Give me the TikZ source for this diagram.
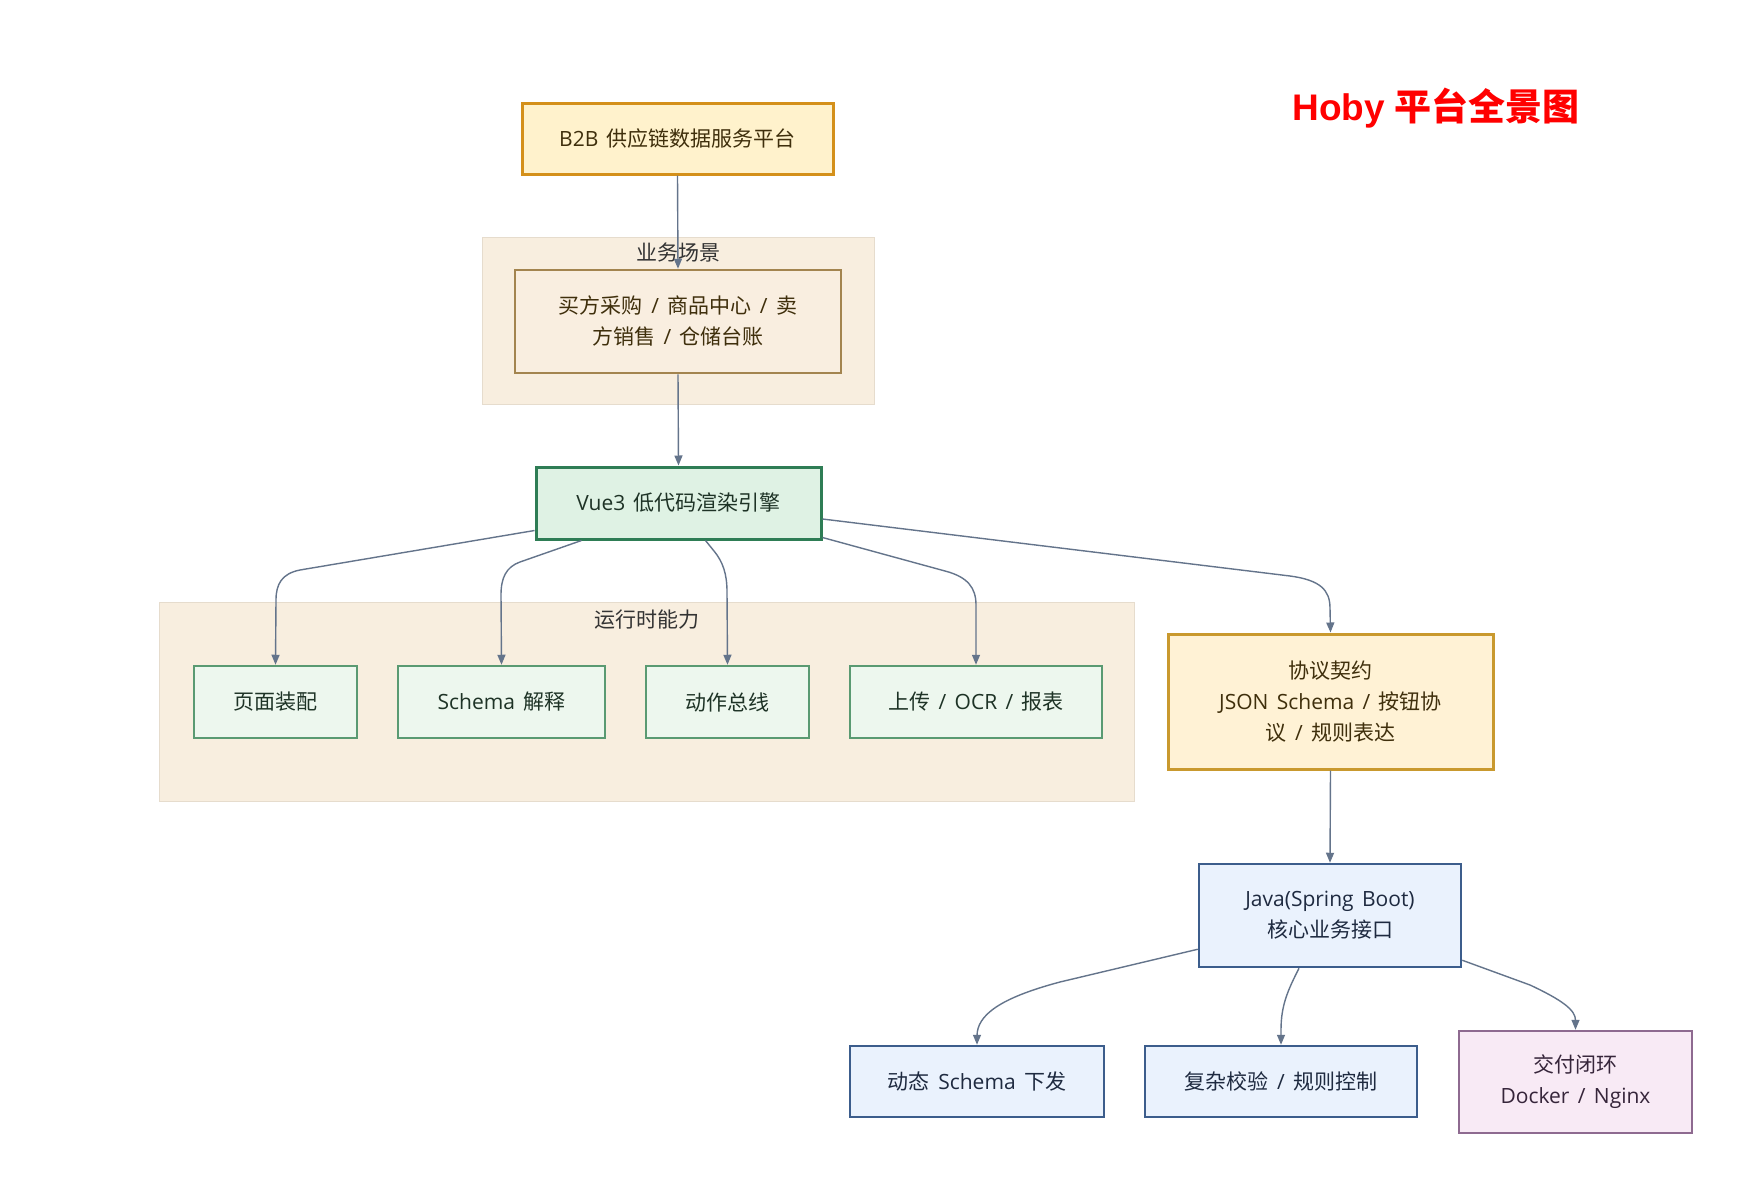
\documentclass[tikz,border=0pt]{standalone}
\usepackage{fontspec}
\setmainfont{Noto Sans CJK SC}
\newfontfamily\lat{Open Sans}
\newfontfamily\arl{Liberation Sans}
\usetikzlibrary{arrows.meta,calc}
\newcommand\Sp{\hspace{0.4em}}
\newcommand\Sl{\hspace{0.4em}{\lat /}\hspace{0.4em}}
\definecolor{edgec}{HTML}{64748B}
\definecolor{clfill}{HTML}{F8EEDF}
\definecolor{cldraw}{HTML}{E6DCCD}
\definecolor{yfill}{HTML}{FFF2CC}
\definecolor{ydraw}{HTML}{D4901A}
\definecolor{ytext}{HTML}{3F2F0C}
\definecolor{bfill}{HTML}{F9EEE0}
\definecolor{bdraw}{HTML}{A3844F}
\definecolor{gfill}{HTML}{DFF2E4}
\definecolor{gdraw}{HTML}{2E7D55}
\definecolor{lgfill}{HTML}{EDF7EE}
\definecolor{lgdraw}{HTML}{5A9A72}
\definecolor{gtext}{HTML}{1E3326}
\definecolor{pfill}{HTML}{FFF2D5}
\definecolor{pdraw}{HTML}{C9992E}
\definecolor{blfill}{HTML}{EAF2FD}
\definecolor{bldraw}{HTML}{3C5D8C}
\definecolor{bltext}{HTML}{1E2A40}
\definecolor{pufill}{HTML}{F8EAF5}
\definecolor{pudraw}{HTML}{8E6A90}
\definecolor{putext}{HTML}{36253A}
\tikzset{
  box/.style={draw, rectangle, align=center, inner sep=0pt, font=\fontsize{21}{31}\selectfont},
  cluster/.style={draw=cldraw, fill=clfill, line width=1pt, rectangle, inner sep=0pt},
  cltitle/.style={font=\fontsize{21}{24}\selectfont, text=black!80, inner sep=0pt},
  arr/.style={draw=edgec, line width=1.4pt, -{Triangle[length=10pt,width=8pt]}},
  ybox/.style={box, fill=yfill, draw=ydraw, line width=3pt, text=ytext},
  bbox/.style={box, fill=bfill, draw=bdraw, line width=2.5pt, text=ytext},
  gbox/.style={box, fill=gfill, draw=gdraw, line width=3pt, text=gtext},
  lgbox/.style={box, fill=lgfill, draw=lgdraw, line width=2.5pt, text=gtext},
  pbox/.style={box, fill=pfill, draw=pdraw, line width=3pt, text=ytext},
  blbox/.style={box, fill=blfill, draw=bldraw, line width=2.5pt, text=bltext},
  pubox/.style={box, fill=pufill, draw=pudraw, line width=2.5pt, text=putext}
}
\begin{document}
\begin{tikzpicture}[x=1pt,y=-1pt]
\fill[white] (0,0) rectangle (1749,1191);
\useasboundingbox (0,0) rectangle (1749,1191);

% title
\node[text=red, inner sep=0pt, font=\fontsize{37}{40}\selectfont\bfseries] (title) at (1436,108) {{\arl\bfseries Hoby}\hspace{0.25em}平台全景图};

% clusters
\node[cluster, minimum width=392, minimum height=167] (cscene) at (678,320.5) {};
\node[cltitle] (cscenet) at (678,253) {业务场景};
\node[cluster, minimum width=975, minimum height=199] (crun) at (646.5,701.5) {};
\node[cltitle] (crunt) at (647,620) {运行时能力};

% nodes
\node[ybox, minimum width=311, minimum height=71] (b2b) at (677.5,138.5) {{\lat B2B}\Sp 供应链数据服务平台};
\node[bbox, minimum width=326, minimum height=103] (scene) at (678,321.5) {买方采购\Sl 商品中心\Sl 卖\\方销售\Sl 仓储台账};
\node[gbox, minimum width=285, minimum height=72] (vue) at (678.5,503) {{\lat Vue3}\Sp 低代码渲染引擎};
\node[lgbox, minimum width=163, minimum height=72] (p1) at (275.5,702) {页面装配};
\node[lgbox, minimum width=207, minimum height=72] (p2) at (501.5,702) {{\lat Schema}\Sp 解释};
\node[lgbox, minimum width=163, minimum height=72] (p3) at (727.5,702) {动作总线};
\node[lgbox, minimum width=252, minimum height=72] (p4) at (976,702) {上传\Sl{\lat OCR}\Sl 报表};
\node[pbox, minimum width=325, minimum height=135] (proto) at (1330.5,701.5) {协议契约\\{\lat JSON\Sp Schema}\Sl 按钮协\\议\Sl 规则表达};
\node[blbox, minimum width=262, minimum height=103] (java) at (1330,915.5) {{\lat Java(Spring\Sp Boot)}\\核心业务接口};
\node[blbox, minimum width=254, minimum height=71] (dyn) at (977,1081.5) {动态\Sp{\lat Schema}\Sp 下发};
\node[blbox, minimum width=272, minimum height=71] (cplx) at (1281,1081.5) {复杂校验\Sl 规则控制};
\node[pubox, minimum width=233, minimum height=102] (deliv) at (1575.5,1082) {交付闭环\\{\lat Docker}\Sl{\lat Nginx}};

% edges
\draw[arr] (b2b.south) -- (scene.north);
\draw[arr] (scene.south) -- (vue.north);
\draw[arr] ($(vue.south west)+(0,-10)$) -- (300,570) .. controls (282,573.5) and (276,584) .. (276,600) -- (p1.north);
\draw[arr] ($(vue.south)+(-97,0)$) -- (520,562) .. controls (506,567) and (501,578) .. (501,595) -- (p2.north);
\draw[arr] ($(vue.south)+(27,0)$) -- (714,551) .. controls (723,562) and (727,574) .. (727,592) -- (p3.north);
\draw[arr] ($(vue.south east)+(0,-3)$) -- (945,571) .. controls (968,577) and (976,588) .. (976,605) -- (p4.north);
\draw[arr] ($(vue.east)+(0,16)$) -- (1290,576) .. controls (1320,580) and (1330,590) .. (1330,608) -- (proto.north);
\draw[arr] (proto.south) -- (java.north);
\draw[arr] ($(java.south west)+(0,-19)$) -- (1060,982) .. controls (1000,998) and (977,1015) .. (977,1036) -- (dyn.north);
\draw[arr] ($(java.south)+(-31,0)$) .. controls (1288,990) and (1281,1005) .. (1281,1030) -- (cplx.north);
\draw[arr] ($(java.south east)+(0,-8)$) -- (1530,985) .. controls (1562,1000) and (1575.5,1010) .. (deliv.north);
\end{tikzpicture}
\end{document}
